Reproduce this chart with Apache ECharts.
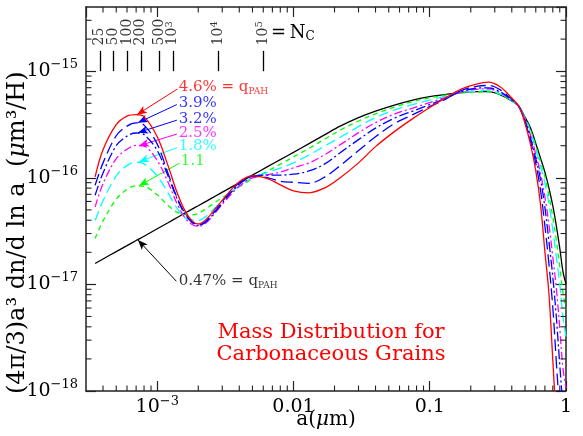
<!DOCTYPE html>
<html><head><meta charset="utf-8">
<script src="https://cdn.jsdelivr.net/npm/echarts@6.0.0/dist/echarts.min.js"></script>
<style>html,body{margin:0;padding:0;background:#fff}#c{width:583px;height:436px}</style>
</head><body><div id="c"></div>
<script>
// grain radius a (micron) at which the curves were read
const aGrid = [3.5e-4, 4e-4, 5e-4, 6e-4, 7e-4, 8e-4, 1e-3, 1.2e-3, 1.4e-3, 1.6e-3, 1.8e-3, 2e-3, 2.3e-3, 2.7e-3, 3.2e-3, 4e-3, 5e-3, 6.5e-3, 8e-3, 0.01, 0.013, 0.017, 0.022, 0.03, 0.04, 0.055, 0.075, 0.1, 0.13, 0.17, 0.22, 0.27, 0.33, 0.4, 0.45, 0.5, 0.55, 0.6, 0.65, 0.7, 0.75, 0.8, 0.85, 0.9, 0.95, 1.0];

// (4pi/3) a^3 dn/dlna (um^3/H) for each q_PAH
const q047 = [1.57e-17, 1.73e-17, 2.03e-17, 2.31e-17, 2.58e-17, 2.83e-17, 3.33e-17, 3.79e-17, 4.24e-17, 4.67e-17, 5.08e-17, 5.47e-17, 6.04e-17, 6.79e-17, 7.66e-17, 8.99e-17, 1.06e-16, 1.28e-16, 1.48e-16, 1.73e-16, 2.09e-16, 2.54e-16, 3.05e-16, 3.67e-16, 4.22e-16, 4.81e-16, 5.36e-16, 5.78e-16, 6.04e-16, 6.30e-16, 6.44e-16, 6.44e-16, 6.00e-16, 5.25e-16, 4.69e-16, 3.71e-16, 2.91e-16, 2.10e-16, 1.53e-16, 1.13e-16, 8.00e-17, 5.47e-17, 3.52e-17, 2.19e-17, 1.32e-17, 1.01e-17];
const q11 = [2.70e-17, 3.94e-17, 6.28e-17, 7.79e-17, 8.41e-17, 8.32e-17, 6.92e-17, 5.51e-17, 4.74e-17, 4.51e-17, 4.49e-17, 4.63e-17, 5.16e-17, 5.95e-17, 6.85e-17, 8.23e-17, 9.79e-17, 1.16e-16, 1.34e-16, 1.57e-16, 1.89e-16, 2.31e-16, 2.80e-16, 3.41e-16, 3.98e-16, 4.60e-16, 5.18e-16, 5.64e-16, 5.95e-16, 6.26e-16, 6.37e-16, 6.44e-16, 6.00e-16, 5.25e-16, 4.69e-16, 3.65e-16, 2.79e-16, 1.98e-16, 1.41e-16, 1.02e-16, 6.73e-17, 4.28e-17, 2.57e-17, 1.47e-17, 8.32e-18, 5.82e-18];
const q18 = [3.98e-17, 6.08e-17, 1.04e-16, 1.30e-16, 1.40e-16, 1.35e-16, 1.04e-16, 7.23e-17, 5.16e-17, 4.20e-17, 4.03e-17, 3.98e-17, 4.39e-17, 5.34e-17, 6.63e-17, 8.41e-17, 1.00e-16, 1.13e-16, 1.23e-16, 1.38e-16, 1.64e-16, 1.99e-16, 2.40e-16, 3.02e-16, 3.67e-16, 4.32e-16, 4.86e-16, 5.36e-16, 5.81e-16, 6.30e-16, 6.48e-16, 6.63e-16, 6.12e-16, 5.28e-16, 4.69e-16, 3.61e-16, 2.67e-16, 1.87e-16, 1.29e-16, 8.88e-17, 5.66e-17, 3.24e-17, 1.79e-17, 1.01e-17, 4.93e-18, 3.25e-18];
const q25 = [5.34e-17, 8.78e-17, 1.51e-16, 1.85e-16, 2.01e-16, 1.98e-16, 1.45e-16, 9.07e-17, 5.69e-17, 4.20e-17, 3.65e-17, 3.50e-17, 3.81e-17, 4.79e-17, 6.21e-17, 8.32e-17, 1.00e-16, 1.07e-16, 1.13e-16, 1.24e-16, 1.38e-16, 1.65e-16, 2.04e-16, 2.65e-16, 3.29e-16, 3.96e-16, 4.51e-16, 5.08e-16, 5.66e-16, 6.37e-16, 6.76e-16, 6.83e-16, 6.28e-16, 5.34e-16, 4.69e-16, 3.51e-16, 2.48e-16, 1.67e-16, 1.10e-16, 6.61e-17, 3.64e-17, 1.81e-17, 9.13e-18, 3.86e-18, 1.63e-18, 1.07e-18];
const q32 = [6.85e-17, 1.11e-16, 2.00e-16, 2.46e-16, 2.63e-16, 2.54e-16, 1.80e-16, 1.04e-16, 6.34e-17, 4.54e-17, 3.81e-17, 3.57e-17, 3.90e-17, 4.89e-17, 6.41e-17, 8.69e-17, 1.03e-16, 1.06e-16, 1.06e-16, 1.08e-16, 1.16e-16, 1.35e-16, 1.72e-16, 2.28e-16, 2.92e-16, 3.63e-16, 4.22e-16, 4.86e-16, 5.54e-16, 6.44e-16, 6.92e-16, 6.98e-16, 6.40e-16, 5.37e-16, 4.69e-16, 3.43e-16, 2.34e-16, 1.52e-16, 9.66e-17, 5.28e-17, 2.51e-17, 1.18e-17, 4.86e-18, 1.76e-18, 7.26e-19, 4.19e-19];
const q39 = [8.50e-17, 1.38e-16, 2.48e-16, 3.05e-16, 3.27e-16, 3.12e-16, 2.07e-16, 1.10e-16, 6.48e-17, 4.63e-17, 3.86e-17, 3.61e-17, 3.98e-17, 5.00e-17, 6.63e-17, 8.97e-17, 1.03e-16, 1.00e-16, 9.27e-17, 9.07e-17, 8.88e-17, 1.02e-16, 1.30e-16, 1.80e-16, 2.43e-16, 3.22e-16, 3.91e-16, 4.66e-16, 5.44e-16, 6.58e-16, 7.21e-16, 7.34e-16, 6.67e-16, 5.46e-16, 4.69e-16, 3.35e-16, 2.21e-16, 1.36e-16, 7.66e-17, 3.53e-17, 1.54e-17, 6.10e-18, 1.83e-18, 6.09e-19, 1.79e-19];
const q46 = [1.02e-16, 1.83e-16, 3.15e-16, 3.79e-16, 3.91e-16, 3.75e-16, 2.43e-16, 1.30e-16, 7.23e-17, 4.89e-17, 3.94e-17, 3.69e-17, 4.11e-17, 5.22e-17, 6.77e-17, 9.17e-17, 1.04e-16, 9.79e-17, 8.59e-17, 7.55e-17, 7.23e-17, 8.05e-17, 1.00e-16, 1.38e-16, 1.96e-16, 2.71e-16, 3.59e-16, 4.56e-16, 5.60e-16, 6.80e-16, 7.58e-16, 7.88e-16, 7.10e-16, 5.60e-16, 4.69e-16, 3.25e-16, 2.04e-16, 1.17e-16, 5.63e-17, 2.03e-17, 8.09e-18, 1.95e-18, 4.85e-19, 1.11e-19];

// tick labels
const xTickLabels = ['{b|10}{s|\u22123}', '{b|0.01}', '{b|0.1}', '{b|1}'];          // 1e-3 .. 1
const yTickLabels = ['{b|10}{s|\u221218}', '{b|10}{s|\u221217}', '{b|10}{s|\u221216}', '{b|10}{s|\u221215}']; // 1e-18 .. 1e-15
const xMinorTicks = [4e-4, 5e-4, 6e-4, 7e-4, 8e-4, 9e-4, 2e-3, 3e-3, 4e-3, 5e-3, 6e-3, 7e-3, 8e-3, 9e-3, 0.02, 0.03, 0.04, 0.05, 0.06, 0.07, 0.08, 0.09, 0.2, 0.3, 0.4, 0.5, 0.6, 0.7, 0.8, 0.9];
const yMinorTicks = [2e-18, 3e-18, 4e-18, 5e-18, 6e-18, 7e-18, 8e-18, 9e-18, 2e-17, 3e-17, 4e-17, 5e-17, 6e-17, 7e-17, 8e-17, 9e-17, 2e-16, 3e-16, 4e-16, 5e-16, 6e-16, 7e-16, 8e-16, 9e-16, 2e-15, 3e-15];

// N_C scale (carbon atoms per grain) and the radius it corresponds to
const ncLabels = ['25', '50', '100', '200', '500', '{b|10}{s|3}', '{b|10}{s|4}', '{b|10}{s|5}'];
const ncA = [3.79e-4, 4.77e-4, 6.01e-4, 7.58e-4, 1.03e-3, 1.30e-3, 2.79e-3, 6.01e-3];

// annotation labels and arrows (data coordinates)
const annLabels = ['{t|4.6% = q}{s|PAH}', '{t|3.9%}', '{t|3.2%}', '{t|2.5%}', '{t|1.8%}', '{t|1.1}', '{t|0.47% = q}{s|PAH}'];
const annColors = ['#ff0000', '#0000ff', '#0000ff', '#ff00ff', '#00ffff', '#00ff00', '#000000'];
const annTextA = [1.424e-3, 1.424e-3, 1.424e-3, 1.424e-3, 1.424e-3, 1.478e-3, 1.424e-3];
const annTextV = [7.10e-16, 4.97e-16, 3.55e-16, 2.65e-16, 1.98e-16, 1.445e-16, 1.07e-17];
const arrowFromA = [1.405e-3, 1.393e-3, 1.393e-3, 1.393e-3, 1.393e-3, 1.453e-3, 1.382e-3];
const arrowFromV = [6.80e-16, 4.86e-16, 3.47e-16, 2.57e-16, 1.915e-16, 1.369e-16, 1.07e-17];
const arrowToA = [7.10e-4, 7.22e-4, 7.22e-4, 7.35e-4, 7.35e-4, 7.35e-4, 7.22e-4];
const arrowToV = [3.91e-16, 3.29e-16, 2.65e-16, 2.00e-16, 1.414e-16, 8.41e-17, 2.61e-17];

const X_MIN = 3e-4, X_MAX = 1, Y_MIN = 1e-18, Y_MAX = 4e-15;
const NC_LINE_LO = 1e-15, NC_LINE_HI = 1.55e-15, NC_LABEL_V = 1.745e-15;

const FONT = "'DejaVu Serif', serif";
const AX = '#222';

const curves = [
  { vals: q047, color: '#000000', type: 'solid' },
  { vals: q11, color: '#00ff00', type: [5, 4] },
  { vals: q18, color: '#00ffff', type: [10, 5] },
  { vals: q25, color: '#ff00ff', type: [8, 3, 2, 3] },
  { vals: q32, color: '#0000ff', type: [10, 3, 2, 3] },
  { vals: q39, color: '#0000ff', type: [12, 5] },
  { vals: q46, color: '#ff0000', type: 'solid' }
];

const MAJOR = 10, MINOR = 5.5;

function axisCommon(extra) {
  return Object.assign({
    type: 'log', logBase: 10,
    axisLine: { show: true, onZero: false, lineStyle: { color: AX, width: 1.5 } },
    axisTick: { show: true, inside: true, length: MAJOR, lineStyle: { color: AX, width: 1.2 } },
    minorTick: { show: false },
    splitLine: { show: false },
    minorSplitLine: { show: false }
  }, extra);
}

const tickRich = {
  b: { fontFamily: FONT, fontSize: 19, lineHeight: 24, color: '#000' },
  s: { fontFamily: FONT, fontSize: 13, lineHeight: 13, verticalAlign: 'top', color: '#000' }
};
const tickRichY = {
  b: { fontFamily: FONT, fontSize: 19, lineHeight: 26, color: '#000' },
  s: { fontFamily: FONT, fontSize: 13, lineHeight: 13, verticalAlign: 'top', color: '#000' }
};

const series = curves.map((c, k) => ({
  type: 'line',
  data: c.vals.map((v, i) => [aGrid[i], v]),
  symbol: 'none', showSymbol: false,
  smooth: 0.35,
  clip: true,
  lineStyle: { color: c.color, width: 1.3, type: c.type },
  z: 3 + k,
  silent: true
}));

// minor ticks on the four sides
series.push({
  type: 'custom', silent: true, z: 20,
  data: xMinorTicks.map(v => [v, Y_MIN]),
  renderItem: function (params, api) {
    const xv = api.value(0);
    const pb = api.coord([xv, Y_MIN]);
    const pt = api.coord([xv, Y_MAX]);
    const st = { stroke: AX, lineWidth: 1.1 };
    return { type: 'group', children: [
      { type: 'line', shape: { x1: pb[0], y1: pb[1], x2: pb[0], y2: pb[1] - MINOR }, style: st },
      { type: 'line', shape: { x1: pt[0], y1: pt[1], x2: pt[0], y2: pt[1] + MINOR }, style: st }
    ]};
  }
});
series.push({
  type: 'custom', silent: true, z: 20,
  data: yMinorTicks.map(v => [X_MIN, v]),
  renderItem: function (params, api) {
    const yv = api.value(1);
    const pl = api.coord([X_MIN, yv]);
    const pr = api.coord([X_MAX, yv]);
    const st = { stroke: AX, lineWidth: 1.1 };
    return { type: 'group', children: [
      { type: 'line', shape: { x1: pl[0], y1: pl[1], x2: pl[0] + MINOR, y2: pl[1] }, style: st },
      { type: 'line', shape: { x1: pr[0], y1: pr[1], x2: pr[0] - MINOR, y2: pr[1] }, style: st }
    ]};
  }
});

// N_C scale: vertical bars + rotated labels
series.push({
  type: 'scatter', silent: true, z: 15,
  symbolSize: 1, itemStyle: { color: 'rgba(0,0,0,0)' },
  data: ncA.map((a, i) => ({ value: [a, NC_LABEL_V], label: { formatter: ncLabels[i] } })),
  label: {
    show: true, position: 'inside', rotate: 90, align: 'left', verticalAlign: 'middle',
    color: '#000', fontFamily: FONT, fontSize: 14, textBorderWidth: 0,
    rich: {
      b: { fontFamily: FONT, fontSize: 14, lineHeight: 17, color: '#000' },
      s: { fontFamily: FONT, fontSize: 10, lineHeight: 10, verticalAlign: 'top', color: '#000' }
    }
  },
  markLine: {
    silent: true, animation: false, symbol: ['none', 'none'],
    label: { show: false },
    lineStyle: { color: '#000', width: 1.3, type: 'solid' },
    data: ncA.map(a => [{ coord: [a, NC_LINE_LO] }, { coord: [a, NC_LINE_HI] }])
  }
});

// q_PAH annotations with arrows
series.push({
  type: 'scatter', silent: true, z: 16,
  symbolSize: 1, itemStyle: { color: 'rgba(0,0,0,0)' },
  data: annLabels.map((t, i) => ({
    value: [annTextA[i], annTextV[i]],
    label: {
      formatter: t,
      rich: {
        t: { fontFamily: FONT, fontSize: 15, lineHeight: 18, color: annColors[i] },
        s: { fontFamily: FONT, fontSize: 9, lineHeight: 9, verticalAlign: 'bottom', color: annColors[i] }
      }
    }
  })),
  label: { show: true, position: 'right', distance: 0, verticalAlign: 'middle', textBorderWidth: 0 },
  markLine: {
    silent: true, animation: false, symbol: ['none', 'arrow'], symbolSize: [6, 10],
    label: { show: false },
    lineStyle: { width: 1, type: 'solid' },
    data: annLabels.map((t, i) => [
      { coord: [arrowFromA[i], arrowFromV[i]], lineStyle: { color: annColors[i], width: 1, type: 'solid' }, itemStyle: { color: annColors[i] } },
      { coord: [arrowToA[i], arrowToV[i]] }
    ])
  }
});

const option = {
  animation: false,
  backgroundColor: '#fff',
  grid: { left: 86, right: 17, top: 7, bottom: 45, containLabel: false, outerBoundsMode: 'none' },
  xAxis: [
    axisCommon({ min: X_MIN, max: X_MAX, position: 'bottom',
      axisLabel: { show: true, margin: 4, showMinLabel: false, rich: tickRich,
        formatter: function (v) { const e = Math.round(Math.log10(v)); return xTickLabels[e + 3] || ''; } } }),
    axisCommon({ min: X_MIN, max: X_MAX, position: 'top', axisLabel: { show: false } })
  ],
  yAxis: [
    axisCommon({ min: Y_MIN, max: Y_MAX, position: 'left',
      axisLabel: { show: true, margin: 8, showMaxLabel: false, rich: tickRichY,
        formatter: function (v) { const e = Math.round(Math.log10(v)); return yTickLabels[e + 18] || ''; } } }),
    axisCommon({ min: Y_MIN, max: Y_MAX, position: 'right', axisLabel: { show: false } })
  ],
  series: series,
  graphic: [
    { type: 'text', x: 18, y: 394, rotation: Math.PI / 2, silent: true,
      style: { text: '{n|(4\u03c0/3)a\u00b3 dn/d ln a  (}{i|\u03bc}{n|m\u00b3/H)}', align: 'left', verticalAlign: 'middle',
        rich: { n: { fontFamily: FONT, fontSize: 24, fill: '#000' }, i: { fontFamily: FONT, fontSize: 24, fontStyle: 'italic', fill: '#000' } } } },
    { type: 'text', x: 326, y: 420, silent: true,
      style: { text: '{n|a(}{i|\u03bc}{n|m)}', align: 'center', verticalAlign: 'middle',
        rich: { n: { fontFamily: FONT, fontSize: 20, fill: '#000' }, i: { fontFamily: FONT, fontSize: 20, fontStyle: 'italic', fill: '#000' } } } },
    { type: 'text', x: 331, y: 344, silent: true,
      style: { text: 'Mass Distribution for\nCarbonaceous Grains', align: 'center', verticalAlign: 'middle',
        fontFamily: FONT, fontSize: 21, lineHeight: 22, fill: '#ff0000' } },
    { type: 'text', x: 271, y: 33, silent: true,
      style: { text: '{m|=\u2009N}{s|C}', align: 'left', verticalAlign: 'middle',
        rich: { m: { fontFamily: FONT, fontSize: 18, lineHeight: 20, fill: '#000' }, s: { fontFamily: FONT, fontSize: 12, lineHeight: 12, verticalAlign: 'bottom', fill: '#000' } } } }
  ]
};

const chart = echarts.init(document.getElementById('c'), null, { renderer: 'canvas' });
chart.setOption(option);
</script>
</body></html>
